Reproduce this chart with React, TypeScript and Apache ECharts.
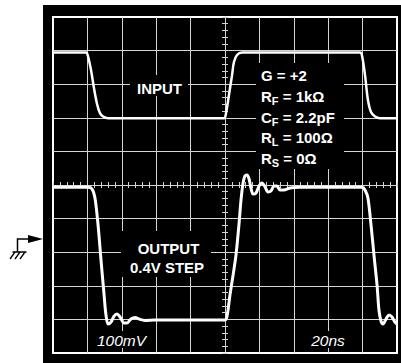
import React, { useEffect, useRef } from 'react';
import * as echarts from 'echarts';

// Time axis in ns, centred on the screen (20 ns / div); voltage in mV (100 mV / div)
const inputTimeNs = [-100, -80.8, -79.7, -77.9, -76.2, -74.4, -72.7, -70.9, -68, -0.6, 0.6, 2.3, 4.1, 5.2, 7, 9.9, 78.5, 79.7, 81.4, 83.1, 84.9, 87.2, 90.1, 100];
const inputMv = [394, 394, 384, 342, 289, 241, 214, 204, 199, 199, 214, 268, 327, 366, 387, 394, 394, 384, 327, 253, 217, 204, 199, 199];

const outputTimeNs = [-100, -79.7, -77.3, -75.6, -73.8, -72.1, -70.3, -69.2, -68, -66.3, -64.5, -62.8, -61, -58.7, -57, -54.7, -52.3, -49.4, -46.5, -40.7, 0, 1.2, 2.9, 4.7, 6.4, 8.1, 9.3, 10.5, 11.6, 12.8, 14, 15.1, 16.3, 18, 19.8, 21.5, 23.3, 25, 26.7, 28.5, 30.2, 32, 34.3, 37.8, 43.6, 79.7, 81.4, 83.1, 84.9, 86.6, 88.4, 89.5, 90.7, 91.9, 93.6, 95.3, 97.1, 98.8, 100];
const outputMv = [-7, -7, -12, -39, -119, -223, -327, -387, -414, -408, -390, -384, -393, -411, -411, -399, -394, -400, -403, -402, -402, -390, -327, -268, -208, -119, -45, 6, 27, 30, 18, -9, -27, -24, -3, 6, -6, -21, -18, -3, -3, -15, -15, -9, -7, -7, -15, -39, -119, -208, -298, -372, -405, -414, -399, -387, -393, -408, -414];

const paramMain = ['G', 'R', 'C', 'R', 'R'];
const paramSub = ['', 'F', 'F', 'L', 'S'];
const paramValue = [' = +2', ' = 1k\u03A9', ' = 2.2pF', ' = 100\u03A9', ' = 0\u03A9'];

const inputLabel = 'INPUT';
const outputLabel = ['OUTPUT', '0.4V STEP'];
const voltsPerDiv = '100mV';
const timePerDiv = '20ns';

const FONT = '"Liberation Sans", Arial, Helvetica, sans-serif';
const gridColor = '#d4d4d4';

function zip(xs: number[], ys: number[]) {
  return xs.map((x, i) => [x, ys[i]]);
}

function makeAxis(extra: any, min: number, max: number, interval: number, split: boolean) {
  return {
    type: 'value',
    min,
    max,
    interval,
    axisLine: { show: true, onZero: true, onZeroAxisIndex: 0, lineStyle: { color: gridColor, width: 1 } },
    axisTick: { show: true, length: 3, lineStyle: { color: gridColor, width: 1 } },
    minorTick: { show: true, splitNumber: 5, length: 3, lineStyle: { color: gridColor, width: 1 } },
    axisLabel: { show: false },
    splitLine: { show: split, showMinLine: false, showMaxLine: false, lineStyle: { color: gridColor, width: 1 } },
    ...extra,
  };
}

export default function App() {
  const ref = useRef<HTMLDivElement>(null);
  useEffect(() => {
    const chart = echarts.init(ref.current!, null, { renderer: 'svg' });

    const paramTexts = paramMain.map((m, i) => ({
      type: 'text',
      z: 101,
      x: 261,
      y: 75.5 + i * 20.8,
      style: {
        text: paramSub[i]
          ? `{m|${m}}{s|${paramSub[i]}}{m|${paramValue[i]}}`
          : `{m|${m}${paramValue[i]}}`,
        align: 'left',
        verticalAlign: 'middle',
        rich: {
          m: { fontSize: 15, fontWeight: 'bold', fontFamily: FONT, fill: '#fff', lineHeight: 20 },
          s: { fontSize: 11, fontWeight: 'bold', fontFamily: FONT, fill: '#fff', lineHeight: 12, verticalAlign: 'bottom' },
        },
      },
    }));

    const option: any = {
      animation: false,
      backgroundColor: '#000',
      grid: { left: 53, top: 17, width: 344, height: 336, show: true, borderColor: '#fff', borderWidth: 2, backgroundColor: 'transparent' },
      xAxis: [
        makeAxis({ position: 'bottom' }, -100, 100, 20, true),
        makeAxis({ position: 'top' }, -100, 100, 20, false),
      ],
      yAxis: [
        makeAxis({ position: 'left' }, -500, 500, 100, true),
        makeAxis({ position: 'right' }, -500, 500, 100, false),
      ],
      series: [
        {
          name: 'Input',
          type: 'line',
          xAxisIndex: 0,
          yAxisIndex: 0,
          data: zip(inputTimeNs, inputMv),
          showSymbol: false,
          smooth: 0.3,
          lineStyle: { color: '#fff', width: 2.5 },
          z: 5,
        },
        {
          name: 'Output',
          type: 'line',
          xAxisIndex: 0,
          yAxisIndex: 0,
          data: zip(outputTimeNs, outputMv),
          showSymbol: false,
          smooth: 0.3,
          lineStyle: { color: '#fff', width: 3 },
          z: 5,
        },
      ],
      graphic: [
        // white page around the scope screen
        { type: 'rect', z: 1, shape: { x: 0, y: 0, width: 43, height: 363 }, style: { fill: '#fff' } },
        { type: 'rect', z: 1, shape: { x: 0, y: 0, width: 401, height: 5 }, style: { fill: '#fff' } },
        // ground reference marker
        { type: 'line', z: 2, shape: { x1: 17.5, y1: 239, x2: 30, y2: 239 }, style: { stroke: '#000', lineWidth: 1.5 } },
        { type: 'polygon', z: 2, shape: { points: [[28, 235], [43, 239], [28, 243]] }, style: { fill: '#000' } },
        { type: 'line', z: 2, shape: { x1: 17.5, y1: 238.3, x2: 17.5, y2: 252 }, style: { stroke: '#000', lineWidth: 1.5 } },
        { type: 'line', z: 2, shape: { x1: 12.5, y1: 252, x2: 26.5, y2: 252 }, style: { stroke: '#000', lineWidth: 1.5 } },
        { type: 'line', z: 2, shape: { x1: 15, y1: 252, x2: 10, y2: 259 }, style: { stroke: '#000', lineWidth: 1.3 } },
        { type: 'line', z: 2, shape: { x1: 20, y1: 252, x2: 15, y2: 259 }, style: { stroke: '#000', lineWidth: 1.3 } },
        { type: 'line', z: 2, shape: { x1: 25, y1: 252, x2: 20, y2: 259 }, style: { stroke: '#000', lineWidth: 1.3 } },
        // label boxes (erase the graticule behind the labels)
        { type: 'rect', z: 100, shape: { x: 130, y: 75, width: 58, height: 21 }, style: { fill: '#000' } },
        { type: 'rect', z: 100, shape: { x: 256, y: 63, width: 88, height: 106 }, style: { fill: '#000' } },
        { type: 'rect', z: 100, shape: { x: 121, y: 231, width: 90, height: 46 }, style: { fill: '#000' } },
        { type: 'rect', z: 100, shape: { x: 94, y: 331, width: 56, height: 17 }, style: { fill: '#000' } },
        { type: 'rect', z: 100, shape: { x: 307, y: 331, width: 42, height: 17 }, style: { fill: '#000' } },
        {
          type: 'text', z: 101, x: 159.5, y: 88,
          style: { text: inputLabel, align: 'center', verticalAlign: 'middle', fontSize: 15, fontWeight: 'bold', fontFamily: FONT, fill: '#fff' },
        },
        {
          type: 'text', z: 101, x: 168.5, y: 248,
          style: { text: outputLabel[0], align: 'center', verticalAlign: 'middle', fontSize: 15, fontWeight: 'bold', fontFamily: FONT, fill: '#fff' },
        },
        {
          type: 'text', z: 101, x: 167, y: 267,
          style: { text: outputLabel[1], align: 'center', verticalAlign: 'middle', fontSize: 15, fontWeight: 'bold', fontFamily: FONT, fill: '#fff' },
        },
        {
          type: 'text', z: 101, x: 121.5, y: 340,
          style: { text: voltsPerDiv, align: 'center', verticalAlign: 'middle', fontSize: 15.5, fontStyle: 'italic', fontFamily: FONT, fill: '#fff' },
        },
        {
          type: 'text', z: 101, x: 328, y: 340,
          style: { text: timePerDiv, align: 'center', verticalAlign: 'middle', fontSize: 15.5, fontStyle: 'italic', fontFamily: FONT, fill: '#fff' },
        },
        ...paramTexts,
      ],
    };

    chart.setOption(option);
    return () => chart.dispose();
  }, []);

  return <div ref={ref} style={{ position: 'absolute', left: 0, top: 0, width: 401, height: 363 }} />;
}
